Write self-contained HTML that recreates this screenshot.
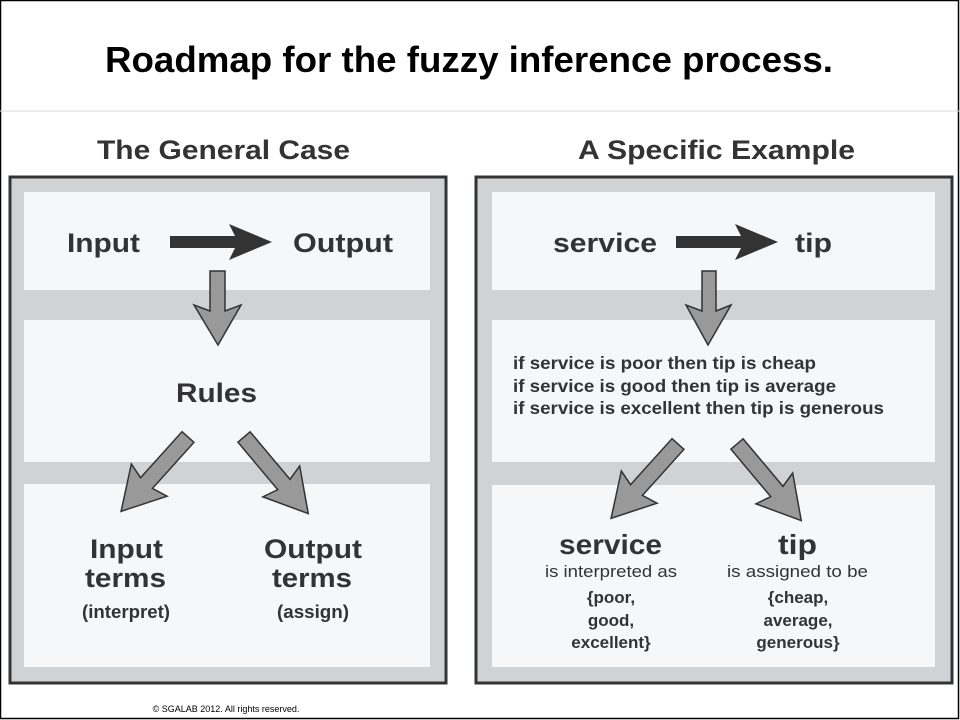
<!DOCTYPE html>
<html><head><meta charset="utf-8"><style>
html,body{margin:0;padding:0;background:#fff}
svg{display:block}
</style></head><body>
<svg width="960" height="720" viewBox="0 0 960 720" xmlns="http://www.w3.org/2000/svg" font-family="Liberation Sans, Arial, sans-serif">
<rect x="0.5" y="0.5" width="958" height="718" fill="#fff" stroke="#000" stroke-width="1.5"/>
<line x1="0" y1="111" x2="960" y2="111" stroke="#d8d8d8" stroke-width="1"/>
<text x="105" y="72" font-size="36" font-weight="bold" fill="#000" textLength="728" lengthAdjust="spacingAndGlyphs">Roadmap for the fuzzy inference process.</text>
<text x="97" y="159" font-size="27" font-weight="bold" fill="#333" textLength="253" lengthAdjust="spacingAndGlyphs">The General Case</text>
<text x="578" y="159" font-size="27" font-weight="bold" fill="#333" textLength="277" lengthAdjust="spacingAndGlyphs">A Specific Example</text>

<rect x="10" y="177" width="436" height="506" fill="#d0d3d6" stroke="#333" stroke-width="3"/>
<rect x="24" y="192" width="406" height="98" fill="#f6f7f8"/>
<rect x="24" y="320" width="406" height="142" fill="#f6f7f8"/>
<rect x="24" y="484" width="406" height="183" fill="#f6f7f8"/>
<rect x="476" y="177" width="476" height="506" fill="#d0d3d6" stroke="#333" stroke-width="3"/>
<rect x="492" y="192" width="443" height="98" fill="#f6f7f8"/>
<rect x="492" y="320" width="443" height="142" fill="#f6f7f8"/>
<rect x="492" y="485" width="443" height="182" fill="#f6f7f8"/>

<g fill="#333">
<polygon points="170,236 235,236 229,224 272,242 229,260 235,248 170,248"/>
<polygon points="676,236 741,236 735,224 778,242 735,260 741,248 676,248"/>
</g>
<g fill="#999" stroke="#333" stroke-width="1.5">
<polygon points="210,271 225,271 225,311 241,305 218,345 194,305 210,311"/>
<polygon points="702,271 716,271 716,311 731,305 708,345 686,305 702,311"/>
<g transform="translate(188,437) rotate(42)"><polygon points="-8,0 8,0 8,62 24,58 0,100 -24,58 -8,62"/></g>
<g transform="translate(244,437) rotate(-40)"><polygon points="-8,0 8,0 8,62 24,58 0,100 -24,58 -8,62"/></g>
<g transform="translate(678,444) rotate(42)"><polygon points="-8,0 8,0 8,62 24,58 0,100 -24,58 -8,62"/></g>
<g transform="translate(737,444) rotate(-40)"><polygon points="-8,0 8,0 8,62 24,58 0,100 -24,58 -8,62"/></g>
</g>

<g font-weight="bold" fill="#333" lengthAdjust="spacingAndGlyphs">
<text x="67" y="252" font-size="27" textLength="73" lengthAdjust="spacingAndGlyphs">Input</text>
<text x="293" y="252" font-size="27" textLength="100" lengthAdjust="spacingAndGlyphs">Output</text>
<text x="176" y="402" font-size="27" textLength="81" lengthAdjust="spacingAndGlyphs">Rules</text>
<text x="90" y="558" font-size="27" textLength="73" lengthAdjust="spacingAndGlyphs">Input</text>
<text x="85" y="587" font-size="27" textLength="81" lengthAdjust="spacingAndGlyphs">terms</text>
<text x="82" y="618" font-size="18" textLength="88" lengthAdjust="spacingAndGlyphs">(interpret)</text>
<text x="264" y="558" font-size="27" textLength="98" lengthAdjust="spacingAndGlyphs">Output</text>
<text x="272" y="587" font-size="27" textLength="80" lengthAdjust="spacingAndGlyphs">terms</text>
<text x="277" y="618" font-size="18" textLength="72" lengthAdjust="spacingAndGlyphs">(assign)</text>

<text x="553" y="252" font-size="27" textLength="104" lengthAdjust="spacingAndGlyphs">service</text>
<text x="795" y="252" font-size="27" textLength="37" lengthAdjust="spacingAndGlyphs">tip</text>
<text x="559" y="554" font-size="28" textLength="103" lengthAdjust="spacingAndGlyphs">service</text>
<text x="778" y="554" font-size="28" textLength="39" lengthAdjust="spacingAndGlyphs">tip</text>
</g>
<g font-weight="bold" fill="#333" text-anchor="middle" font-size="17">
<text x="611" y="603">{poor,</text>
<text x="611" y="626">good,</text>
<text x="611" y="648">excellent}</text>
<text x="798" y="603">{cheap,</text>
<text x="798" y="626">average,</text>
<text x="798" y="648">generous}</text>
</g>
<g font-weight="bold" fill="#333" font-size="17.5">
<text x="513" y="369" textLength="303" lengthAdjust="spacingAndGlyphs">if service is poor then tip is cheap</text>
<text x="513" y="392" textLength="323" lengthAdjust="spacingAndGlyphs">if service is good then tip is average</text>
<text x="513" y="414" textLength="371" lengthAdjust="spacingAndGlyphs">if service is excellent then tip is generous</text>
</g>
<g fill="#333" font-size="16.5">
<text x="545" y="577" textLength="132" lengthAdjust="spacingAndGlyphs">is interpreted as</text>
<text x="727" y="577" textLength="141" lengthAdjust="spacingAndGlyphs">is assigned to be</text>
</g>
<text x="226" y="712" text-anchor="middle" font-size="9" fill="#000">© SGALAB 2012. All rights reserved.</text>
</svg>
</body></html>
